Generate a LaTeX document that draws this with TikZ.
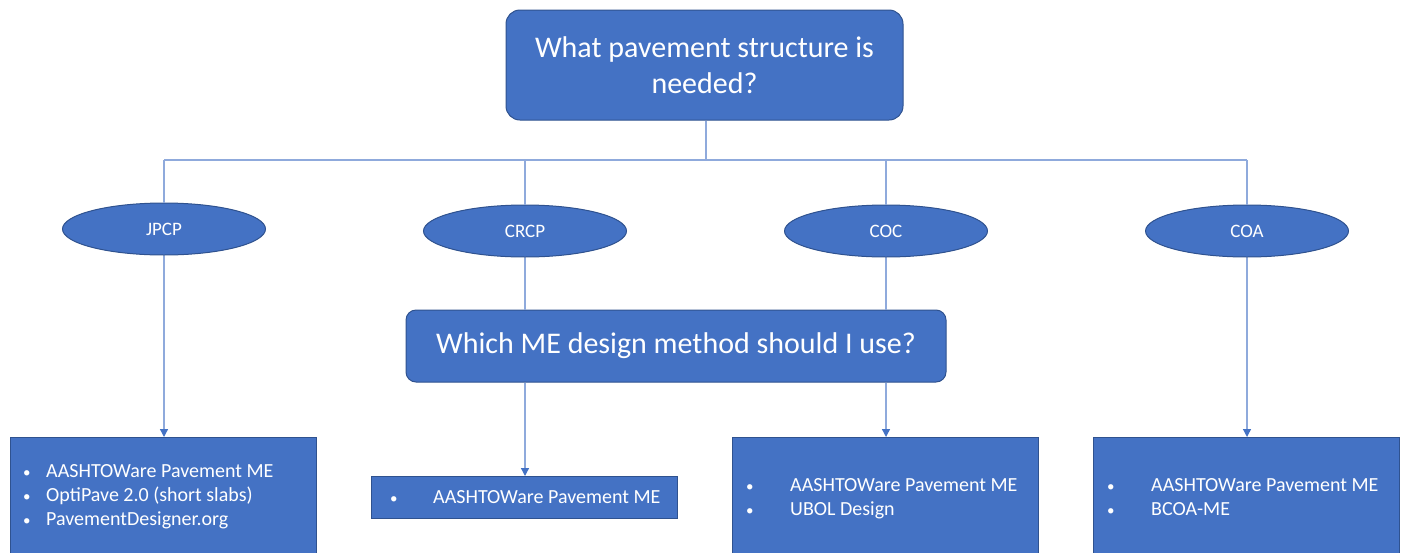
\documentclass[tikz,border=0pt]{standalone}
\usepackage{fontspec}
\setmainfont{Carlito}
\usetikzlibrary{shapes.geometric,arrows.meta}
\definecolor{boxfill}{HTML}{4472C4}
\definecolor{boxline}{HTML}{2F528F}
\definecolor{conn}{HTML}{8FAADC}
\definecolor{tipc}{HTML}{4472C4}
\tikzset{
  question/.style={draw=boxline, line width=1pt, fill=boxfill, rounded corners=14pt, text=white, inner sep=0pt, align=center},
  oval/.style={ellipse, draw=boxline, line width=1pt, fill=boxfill, text=white, inner sep=0pt, minimum width=203pt, minimum height=52pt, font=\fontsize{19}{22}\selectfont},
  toolbox/.style={rectangle, draw=boxline, line width=1pt, fill=boxfill, inner sep=0pt, minimum width=306pt, anchor=north west},
  item/.style={text=white, anchor=base west, inner sep=0pt, font=\fontsize{20}{24}\selectfont},
  dot/.style={text=white, anchor=base west, inner sep=0pt, font=\fontsize{15}{24}\selectfont},
  link/.style={draw=conn, line width=1.3pt},
  arrowlink/.style={link, -{Triangle[width=8pt,length=8pt,color=tipc]}}
}
\begin{document}
\begin{tikzpicture}[x=1pt,y=-1pt]
\useasboundingbox (0,0) rectangle (1404,552);
\clip (0,0) rectangle (1404,552);
% top question
\node[question, minimum width=397pt, minimum height=110pt, font=\fontsize{30}{36}\selectfont] (top) at (704.5,65) {What pavement structure is\\needed?};
% ovals
\node[oval] (jpcp) at (164,229) {JPCP};
\node[oval] (crcp) at (525,231) {CRCP};
\node[oval] (coc) at (886,231) {COC};
\node[oval] (coa) at (1247,231) {COA};
% tree connectors
\coordinate (hub) at (706,160);
\coordinate (hl) at (164,160);
\coordinate (hr) at (1247,160);
\draw[link] (top.south -| hub) -- (hub);
\draw[link] (hl) -- (hr);
\draw[link] (hl) -- (jpcp.north);
\draw[link] (crcp.north |- hl) -- (crcp.north);
\draw[link] (coc.north |- hl) -- (coc.north);
\draw[link] (hr) -- (coa.north);
% ME question
\node[question, rounded corners=10pt, minimum width=540pt, minimum height=72pt, font=\fontsize{30}{34}\selectfont] (me) at (676,346) {Which ME design method should I use?};
% result boxes
\node[toolbox, minimum height=125pt] (b1) at (10,437) {};
\node[toolbox, minimum height=42pt] (b2) at (371,476) {};
\node[toolbox, minimum height=125pt] (b3) at (732,437) {};
\node[toolbox, minimum height=125pt] (b4) at (1093,437) {};
% arrows
\draw[arrowlink] (jpcp.south) -- (jpcp.south |- b1.north);
\draw[link] (crcp.south) -- (crcp.south |- me.north);
\draw[arrowlink] (crcp.south |- me.south) -- (crcp.south |- b2.north);
\draw[link] (coc.south) -- (coc.south |- me.north);
\draw[arrowlink] (coc.south |- me.south) -- (coc.south |- b3.north);
\draw[arrowlink] (coa.south) -- (coa.south |- b4.north);
% box 1 items
\node[dot] (b1a) at (23,477) {•};
\node[item] (b1at) at (46,477) {AASHTOWare Pavement ME};
\node[dot] (b1b) at (23,501) {•};
\node[item] (b1bt) at (46,501) {OptiPave 2.0 (short slabs)};
\node[dot] (b1c) at (23,525) {•};
\node[item] (b1ct) at (46,525) {PavementDesigner.org};
% box 2
\node[dot] (b2a) at (390,503) {•};
\node[item] (b2at) at (433,503) {AASHTOWare Pavement ME};
% box 3
\node[dot] (b3a) at (746,491) {•};
\node[item] (b3at) at (790,491) {AASHTOWare Pavement ME};
\node[dot] (b3b) at (746,515) {•};
\node[item] (b3bt) at (790,515) {UBOL Design};
% box 4
\node[dot] (b4a) at (1107,491) {•};
\node[item] (b4at) at (1151,491) {AASHTOWare Pavement ME};
\node[dot] (b4b) at (1107,515) {•};
\node[item] (b4bt) at (1151,515) {BCOA-ME};
\end{tikzpicture}
\end{document}
